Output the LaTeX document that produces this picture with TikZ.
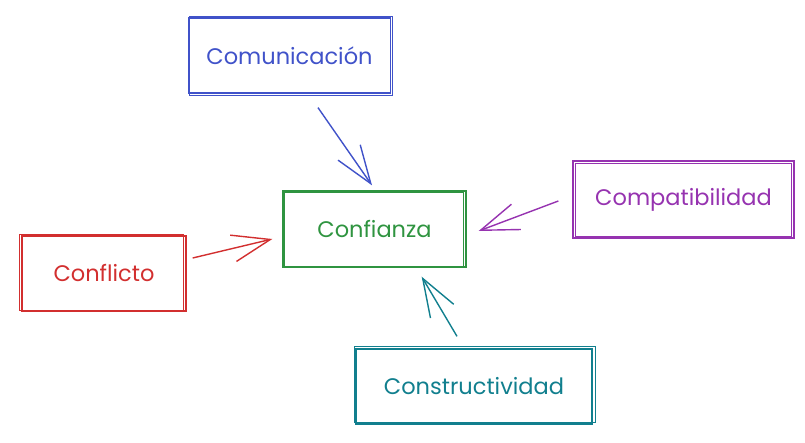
\documentclass[tikz,border=0pt]{standalone}
\usepackage{fontspec}
\setmainfont{Poppins}
\usetikzlibrary{arrows.meta,calc}
\definecolor{cblue}{HTML}{4052C9}
\definecolor{cgreen}{HTML}{2F9440}
\definecolor{cpurple}{HTML}{9633B0}
\definecolor{cred}{HTML}{D22F2F}
\definecolor{cteal}{HTML}{117F8E}
\begin{document}
\begin{tikzpicture}[x=1pt,y=-1pt,
  box/.style={draw=#1, text=#1, line width=1.3pt, rectangle, inner sep=0pt,
    font=\fontsize{22.5}{26}\selectfont},
  sk/.style={draw=#1, line width=0.7pt},
  arr/.style={draw=#1, line width=1.4pt,
    -{Straight Barb[length=38pt,width=27pt,line width=1.4pt]}},
  arrsk/.style={draw=#1, line width=0.7pt}]
\useasboundingbox (0,0) rectangle (805,443);
\node[box=cblue, minimum width=202pt, minimum height=75pt] (com) at (289.5,55.5) {Comunicación};
\node[box=cgreen, minimum width=183pt, minimum height=76pt] (conf) at (374.5,229) {Confianza};
\node[box=cpurple, minimum width=221pt, minimum height=77pt] (comp) at (683.5,199.5) {Compatibilidad};
\node[box=cteal, minimum width=236pt, minimum height=75pt] (cons) at (474,386.5) {Constructividad};
\node[box=cred, minimum width=164pt, minimum height=75pt] (confl) at (104,273.5) {Conflicto};
% sketchy second strokes
\draw[sk=cblue] ([shift={(1.5,-1)}]com.north west) rectangle ([shift={(1.5,1.5)}]com.south east);
\draw[sk=cgreen] ([shift={(2,2)}]conf.north west) rectangle ([shift={(-3,-1)}]conf.south east);
\draw[sk=cpurple] ([shift={(3,3)}]comp.north west) rectangle ([shift={(-3,-2)}]comp.south east);
\draw[sk=cteal] ([shift={(-1,-2)}]cons.north west) rectangle ([shift={(3,-2)}]cons.south east);
\draw[sk=cred] ([shift={(-2,-1)}]confl.north west) rectangle ([shift={(-3,-1)}]confl.south east);
% arrows
\draw[arr=cblue] ($(com.south)+(28.5,14)$) -- ($(conf.north)+(-2.5,-5)$);
\draw[arr=cpurple] ($(comp.west)+(-14,1.5)$) -- ($(conf.east)+(12,2)$);
\draw[arr=cred] ($(confl.east)+(6,-15.5)$) -- ($(conf.west)+(-10,10)$);
\draw[arr=cteal] ($(cons.north)+(-17,-12)$) -- ($(conf.south east)+(-45,9)$);
\end{tikzpicture}
\end{document}
